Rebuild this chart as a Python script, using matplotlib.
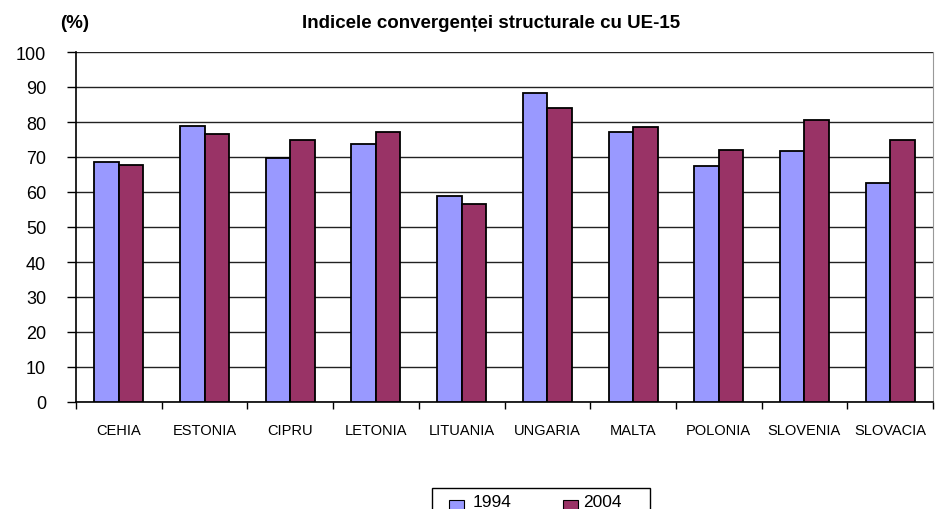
import matplotlib.pyplot as plt
from matplotlib.patches import Rectangle
import numpy as np

plt.rcParams['font.family'] = ['Liberation Sans', 'DejaVu Sans']

tari = ['CEHIA', 'ESTONIA', 'CIPRU', 'LETONIA', 'LITUANIA',
        'UNGARIA', 'MALTA', 'POLONIA', 'SLOVENIA', 'SLOVACIA']
val_1994 = [68.7, 78.9, 69.8, 73.8, 59.0, 88.4, 77.1, 67.3, 71.8, 62.5]
val_2004 = [67.6, 76.7, 74.9, 77.1, 56.6, 84.0, 78.5, 72.0, 80.7, 74.9]
ani = ['1994', '2004']
culori = ['#9999ff', '#993366']

fig = plt.figure(figsize=(9.36, 5.1), dpi=100)
ax = fig.add_axes([76 / 936, 1 - 403 / 510, (933 - 76) / 936, (403 - 53) / 510])

x = np.arange(len(tari))
w = 1 / 3.5
ax.bar(x - w / 2, val_1994, w, color=culori[0], edgecolor='black', linewidth=1.3, zorder=3)
ax.bar(x + w / 2, val_2004, w, color=culori[1], edgecolor='black', linewidth=1.3, zorder=3)

ax.set_xlim(-0.5, len(tari) - 0.5)
ax.set_ylim(0, 100)
ax.set_yticks(range(0, 101, 10))
ax.yaxis.grid(True, color='#222222', linewidth=1, zorder=0)
ax.tick_params(axis='y', length=6.5, width=1, labelsize=13, pad=15)

# tick-uri la marginea categoriilor, etichete in mijloc
ax.set_xticks(np.arange(-0.5, len(tari), 1))
ax.set_xticklabels([])
ax.set_xticks(x, minor=True)
ax.set_xticklabels(tari, minor=True, fontsize=10.5)
ax.tick_params(axis='x', which='major', length=5, width=1, direction='out')
ax.tick_params(axis='x', which='minor', length=0, pad=15)

ax.spines['top'].set_visible(False)
ax.spines['right'].set_color('#999999')
ax.spines['left'].set_linewidth(1.2)
ax.spines['bottom'].set_linewidth(1.2)

fig.text(491 / 936, 1 - 23 / 510, 'Indicele convergenței structurale cu UE-15',
         ha='center', va='center', fontsize=13.5, fontweight='bold')
fig.text(75 / 936, 1 - 24 / 510, '(%)', ha='center', va='center',
         fontsize=13.5, fontweight='bold')

# legenda jos
fig.patches.append(Rectangle((432 / 936, -0.01), (650 - 432) / 936, (510 - 489) / 510 + 0.01,
                             transform=fig.transFigure, facecolor='white',
                             edgecolor='black', linewidth=1))
for i, an in enumerate(ani):
    px = [449, 563][i]
    fig.patches.append(Rectangle((px / 936, 1 - 511 / 510), 15 / 936, 10 / 510,
                                 transform=fig.transFigure, facecolor=culori[i],
                                 edgecolor='black', linewidth=0.8))
    fig.text([473, 583][i] / 936, 1 - 503 / 510, an, ha='left', va='center', fontsize=12.5)

fig.savefig('out.png', dpi=100)
